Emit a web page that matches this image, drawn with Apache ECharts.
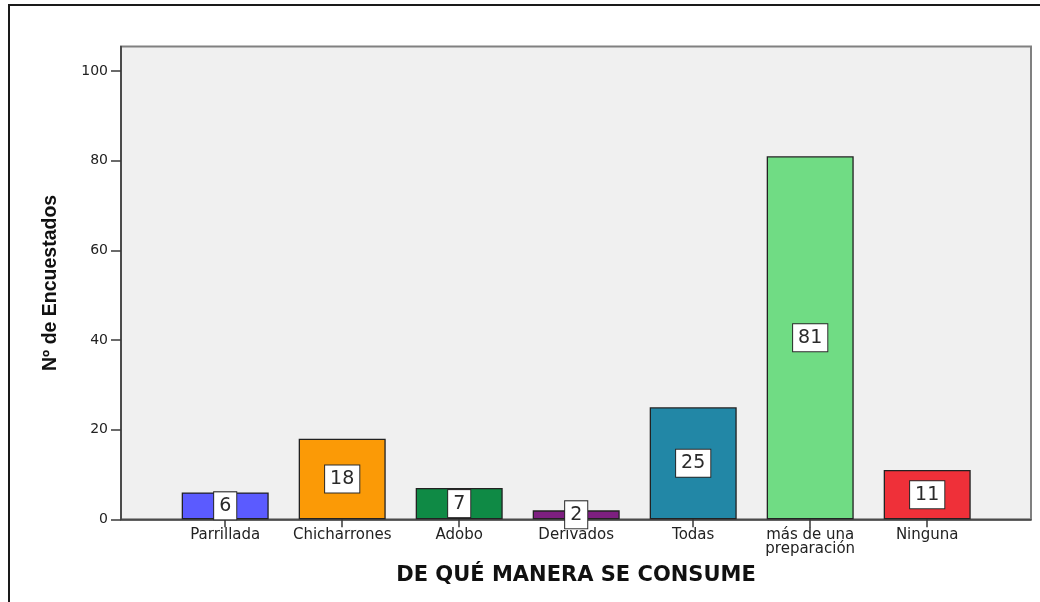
<!DOCTYPE html>
<html>
<head>
<meta charset="utf-8">
<script src="https://cdn.jsdelivr.net/npm/echarts@6/dist/echarts.min.js"></script>
<style>html,body{margin:0;padding:0;background:#fff;}#c{width:1040px;height:602px;}</style>
</head>
<body>
<div id="c"></div>
<script>
const categories = ['Parrillada', 'Chicharrones', 'Adobo', 'Derivados', 'Todas', 'más de una\npreparación', 'Ninguna'];
const values = [6, 18, 7, 2, 25, 81, 11];
const barColors = ['#5b5bff', '#fb9a06', '#0f8a45', '#7d1f80', '#2287a6', '#70dc84', '#ef3039'];
const yTicks = [0, 20, 40, 60, 80, 100];
const yMax = 105.5;
const xTitle = 'DE QUÉ MANERA SE CONSUME';
const yTitle = 'Nº de Encuestados';

const chart = echarts.init(document.getElementById('c'), null, {renderer: 'canvas'});
const font = "'DejaVu Sans', 'Liberation Sans', sans-serif";
chart.setOption({
  animation: false,
  backgroundColor: '#ffffff',
  graphic: [{
    type: 'rect', z: 100,
    shape: {x: 9, y: 5, width: 1200, height: 800},
    style: {fill: null, stroke: '#1a1a1a', lineWidth: 2}
  }],
  grid: [
    {left: 121, right: 9, top: 46.5, bottom: 82.7, show: true, backgroundColor: '#f0f0f0', borderColor: '#808080', borderWidth: 2},
    {left: 166.7, right: 54.3, top: 46.5, bottom: 82.7}
  ],
  xAxis: [
    {gridIndex: 0, type: 'value', min: 0, max: 1, axisLine: {show: true, lineStyle: {color: '#3a3a3a', width: 1.5}},
     axisTick: {show: false}, axisLabel: {show: false}, splitLine: {show: false},
     name: xTitle, nameLocation: 'middle', nameGap: 46,
     nameTextStyle: {fontFamily: font, fontWeight: 'bold', fontSize: 21, color: '#111'}},
    {gridIndex: 1, type: 'category', data: categories, axisLine: {show: false},
     axisTick: {show: true, alignWithLabel: true, length: 8, lineStyle: {color: '#3a3a3a', width: 1.5}},
     axisLabel: {fontFamily: font, fontSize: 15, color: '#222', margin: 9, lineHeight: 14, interval: 0}}
  ],
  yAxis: [
    {gridIndex: 0, type: 'value', min: 0, max: yMax,
     axisLine: {show: true, lineStyle: {color: '#3a3a3a', width: 1.5}},
     axisTick: {show: true, length: 10, customValues: yTicks, lineStyle: {color: '#3a3a3a', width: 1.5}},
     axisLabel: {customValues: yTicks, fontFamily: font, fontSize: 14, color: '#222', margin: 13},
     splitLine: {show: false},
     name: yTitle, nameLocation: 'middle', nameGap: 60, nameRotate: 90,
     nameTextStyle: {fontFamily: "'Liberation Sans', Arial, sans-serif", fontWeight: 'bold', fontSize: 19.5, color: '#111'}},
    {gridIndex: 1, type: 'value', min: 0, max: yMax, show: false}
  ],
  series: [{
    type: 'bar', xAxisIndex: 1, yAxisIndex: 1,
    barWidth: 87,
    data: values.map((v, i) => ({value: v, itemStyle: {color: barColors[i]}})),
    itemStyle: {borderColor: '#222', borderWidth: 1.3},
    label: {
      show: true, position: 'inside', fontFamily: font, fontSize: 19, color: '#2a2a2a',
      backgroundColor: '#ffffff', borderColor: '#2a2a2a', borderWidth: 1,
      padding: [4, 5, 3, 5], lineHeight: 20
    }
  }]
});
</script>
</body>
</html>
